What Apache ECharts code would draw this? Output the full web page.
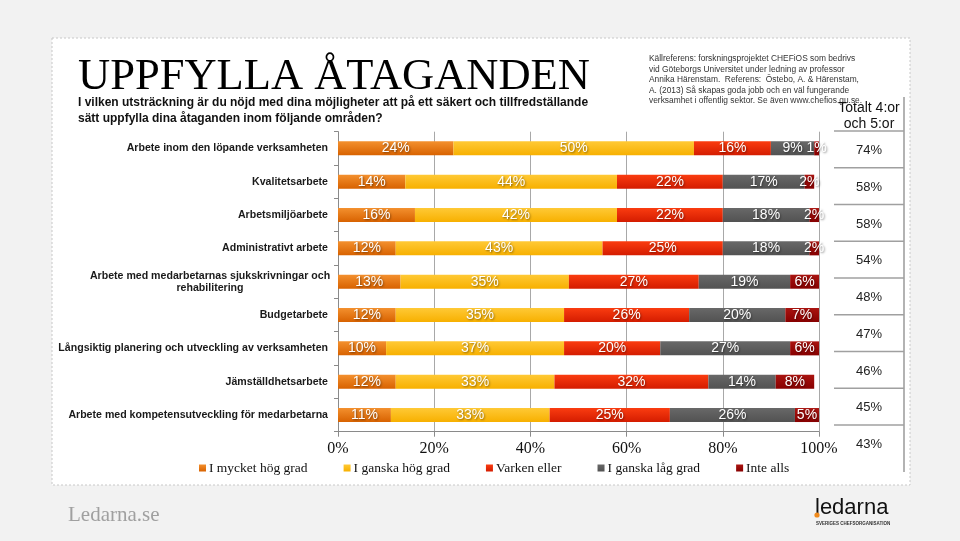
<!DOCTYPE html>
<html><head><meta charset="utf-8">
<script src="https://cdn.jsdelivr.net/npm/echarts/dist/echarts.min.js"></script>
<style>html,body{margin:0;padding:0;background:#f2f2f2}#c{width:960px;height:541px}</style>
</head><body><div id="c"></div>
<script>
const categories = [
  'Arbete inom den löpande verksamheten',
  'Kvalitetsarbete',
  'Arbetsmiljöarbete',
  'Administrativt arbete',
  'Arbete med medarbetarnas sjukskrivningar och\nrehabilitering',
  'Budgetarbete',
  'Långsiktig planering och utveckling av verksamheten',
  'Jämställdhetsarbete',
  'Arbete med kompetensutveckling för medarbetarna'
];
const seriesNames = ['I mycket hög grad', 'I ganska hög grad', 'Varken eller', 'I ganska låg grad', 'Inte alls'];
const mycketHog = [24, 14, 16, 12, 13, 12, 10, 12, 11];
const ganskaHog = [50, 44, 42, 43, 35, 35, 37, 33, 33];
const varkenEller = [16, 22, 22, 25, 27, 26, 20, 32, 25];
const ganskaLag = [9, 17, 18, 18, 19, 20, 27, 14, 26];
const inteAlls = [1, 2, 2, 2, 6, 7, 6, 8, 5];
const totalHeader = ['Totalt 4:or', 'och 5:or'];
const totals = ['74%', '58%', '58%', '54%', '48%', '47%', '46%', '45%', '43%'];
const title = 'UPPFYLLA ÅTAGANDEN';
const subtitle = ['I vilken utsträckning är du nöjd med dina möjligheter att på ett säkert och tillfredställande', 'sätt uppfylla dina åtaganden inom följande områden?'];
const sourceLines = [
  'Källreferens: forskningsprojektet CHEFiOS som bedrivs',
  'vid Göteborgs Universitet under ledning av professor',
  'Annika Härenstam.  Referens:  Östebo, A. & Härenstam,',
  'A. (2013) Så skapas goda jobb och en väl fungerande',
  'verksamhet i offentlig sektor. Se även www.chefios.gu.se.'
];

const seriesData = [mycketHog, ganskaHog, varkenEller, ganskaLag, inteAlls];
const grad = (a, b) => new echarts.graphic.LinearGradient(0, 0, 0, 1, [{offset: 0, color: a}, {offset: 1, color: b}]);
const colors = [
  grad('#f3902e', '#d86200'),
  grad('#ffc935', '#f7b000'),
  grad('#fa3c10', '#d41c00'),
  grad('#686868', '#525252'),
  grad('#aa1410', '#880000')
];

const chart = echarts.init(document.getElementById('c'));
const SANS = 'Liberation Sans, Arial, sans-serif';
const SERIF = 'Liberation Serif, Times New Roman, serif';

const graphics = [];
graphics.push({type: 'rect', z: -10, shape: {x: 52, y: 38, width: 858, height: 447},
  style: {fill: '#ffffff', stroke: '#c8c8c8', lineWidth: 1, lineDash: [2, 2]}});
graphics.push({type: 'text', x: 78, y: 77, style: {text: title, font: '44.5px ' + SERIF, fill: '#000', verticalAlign: 'middle'}});
subtitle.forEach((t, i) => graphics.push({type: 'text', x: 78, y: 103 + i * 16,
  style: {text: t, font: 'bold 12px ' + SANS, fill: '#111', verticalAlign: 'middle'}}));
sourceLines.forEach((t, i) => graphics.push({type: 'text', x: 649, y: 59 + i * 10.4,
  style: {text: t, font: '8.4px ' + SANS, fill: '#333', verticalAlign: 'middle'}}));
// Totals column
totalHeader.forEach((t, i) => graphics.push({type: 'text', x: 869, y: 108 + i * 16,
  style: {text: t, font: '14px ' + SANS, fill: '#111', align: 'center', verticalAlign: 'middle'}}));
graphics.push({type: 'line', shape: {x1: 904, y1: 97, x2: 904, y2: 472}, style: {stroke: '#9a9a9a', lineWidth: 1.5}});
totals.forEach((t, i) => {
  graphics.push({type: 'line', shape: {x1: 834, y1: 131 + i * 36.75, x2: 904, y2: 131 + i * 36.75}, style: {stroke: '#a0a0a0', lineWidth: 1.5}});
  graphics.push({type: 'text', x: 869, y: 150.5 + i * 36.75,
    style: {text: t, font: '13px ' + SANS, fill: '#222', align: 'center', verticalAlign: 'middle'}});
});
// footer
graphics.push({type: 'text', x: 68, y: 515, style: {text: 'Ledarna.se', font: '21px ' + SERIF, fill: '#a0a0a0', verticalAlign: 'middle'}});
graphics.push({type: 'text', x: 815, y: 508, style: {text: 'ledarna', font: '22px ' + SANS, fill: '#111', verticalAlign: 'middle'}});
graphics.push({type: 'circle', shape: {cx: 817, cy: 515, r: 2.6}, style: {fill: '#f08a1c'}});
graphics.push({type: 'text', x: 816, y: 524, style: {text: 'SVERIGES CHEFSORGANISATION', font: 'bold 4.5px ' + SANS, fill: '#333', verticalAlign: 'middle'}});

const option = {
  animation: false,
  backgroundColor: '#f2f2f2',
  graphic: graphics,
  legend: {
    data: seriesNames,
    left: 194, top: 456,
    icon: 'rect', itemWidth: 7, itemHeight: 7, itemGap: 36,
    textStyle: {fontFamily: SERIF, fontSize: 13.5, color: '#111', padding: [0, 0, 0, -2]}
  },
  grid: {left: 338, right: 141, top: 131.7, height: 300, containLabel: false},
  xAxis: {
    type: 'value', min: 0, max: 100, interval: 20,
    axisLine: {show: true, lineStyle: {color: '#8a8a8a'}},
    axisTick: {show: true, length: 5, lineStyle: {color: '#8a8a8a'}},
    splitLine: {lineStyle: {color: '#a8a8a8', width: 1}},
    axisLabel: {formatter: '{value}%', fontFamily: SERIF, fontSize: 16, color: '#111', margin: 9}
  },
  yAxis: {
    type: 'category', data: categories, inverse: true,
    axisLine: {show: true, lineStyle: {color: '#8a8a8a'}},
    axisTick: {show: true, length: 4, lineStyle: {color: '#8a8a8a'}},
    axisLabel: {
      margin: 10, fontFamily: SANS, fontSize: 10.6, fontWeight: 'bold', color: '#1a1a1a', lineHeight: 12,
      formatter: v => v.indexOf('\n') >= 0 ? v.split('\n').map(s => '{c|' + s + '}').join('\n') : v,
      rich: {c: {width: 236, align: 'center', fontFamily: SANS, fontSize: 10.6, fontWeight: 'bold', color: '#1a1a1a', lineHeight: 12}}
    }
  },
  series: seriesNames.map((n, k) => ({
    name: n, type: 'bar', stack: 'total', barWidth: 14,
    data: seriesData[k],
    itemStyle: {color: colors[k]},
    label: {
      show: true, position: 'inside', formatter: '{c}%',
      fontFamily: SANS, fontSize: 14, color: '#fff',
      textShadowColor: 'rgba(0,0,0,0.45)', textShadowBlur: 2, textShadowOffsetX: 1, textShadowOffsetY: 1
    }
  }))
};
chart.setOption(option);
</script></body></html>
